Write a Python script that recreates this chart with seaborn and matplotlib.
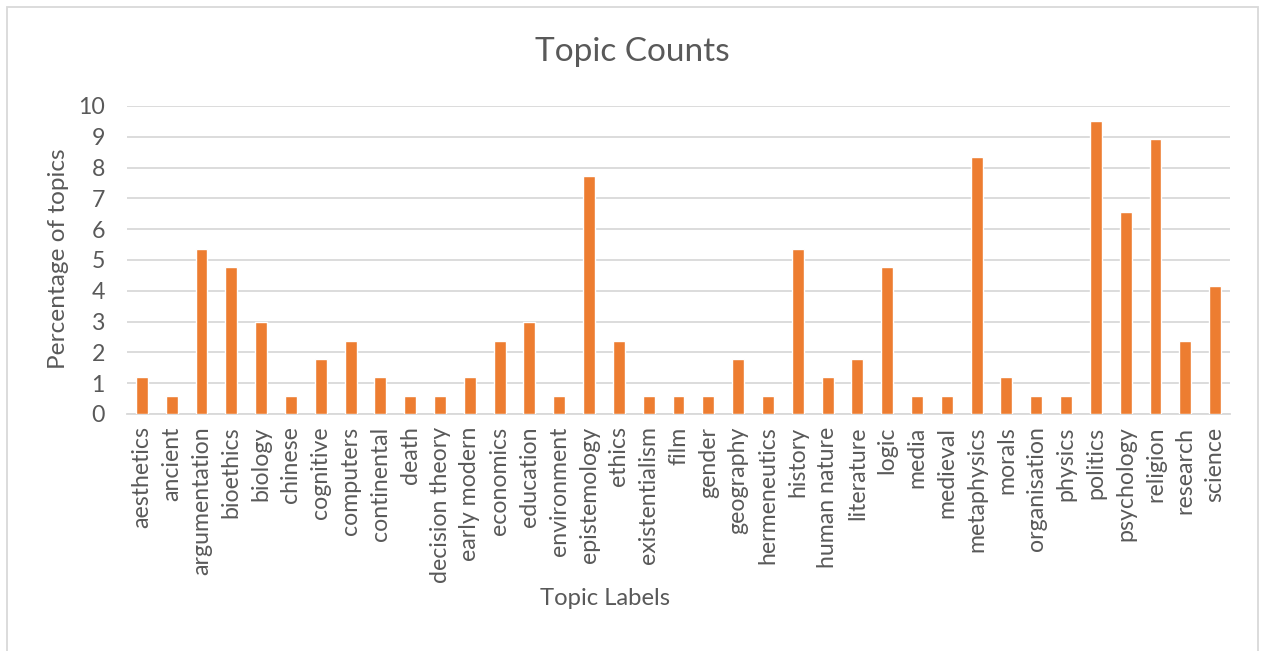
import matplotlib
matplotlib.use("Agg")
import matplotlib.pyplot as plt
import seaborn as sns
import pandas as pd
from matplotlib.patches import Rectangle

topics = [
    "aesthetics", "ancient", "argumentation", "bioethics", "biology", "chinese",
    "cognitive", "computers", "continental", "death", "decision theory",
    "early modern", "economics", "education", "environment", "epistemology",
    "ethics", "existentialism", "film", "gender", "geography", "hermeneutics",
    "history", "human nature", "literature", "logic", "media", "medieval",
    "metaphysics", "morals", "organisation", "physics", "politics",
    "psychology", "religion", "research", "science",
]
percentages = [
    1.19, 0.60, 5.36, 4.76, 2.98, 0.60,
    1.79, 2.38, 1.19, 0.60, 0.60,
    1.19, 2.38, 2.98, 0.60, 7.74,
    2.38, 0.60, 0.60, 0.60, 1.79, 0.60,
    5.36, 1.19, 1.79, 4.76, 0.60, 0.60,
    8.33, 1.19, 0.60, 0.60, 9.52,
    6.55, 8.93, 2.38, 4.17,
]
y_ticks = [0, 1, 2, 3, 4, 5, 6, 7, 8, 9, 10]

df = pd.DataFrame({"topic": topics, "pct": percentages})

sns.set_theme(style="white")
plt.rcParams["font.family"] = ["Lato", "DejaVu Sans"]

TEXT = "#595959"
GRID = "#d9d9d9"
BAR = "#ed7d31"

fig = plt.figure(figsize=(12.61, 6.51), dpi=100)
ax = fig.add_axes([127 / 1261, 1 - 414 / 651, (1230 - 127) / 1261, (414 - 106) / 651])

sns.barplot(data=df, x="topic", y="pct", color=BAR, width=0.4,
            saturation=1, ax=ax, zorder=3)

ax.set_ylim(0, 10)
ax.set_yticks(y_ticks)
ax.set_xlim(-0.5, len(topics) - 0.5)
ax.yaxis.grid(True, color=GRID, linewidth=1.3, zorder=0)
ax.set_axisbelow(True)
for side in ["top", "right", "left"]:
    ax.spines[side].set_visible(False)
ax.spines["bottom"].set_color(GRID)
ax.spines["bottom"].set_linewidth(1.3)
ax.tick_params(axis="both", length=0, colors=TEXT, labelsize=16.7)
ax.tick_params(axis="y", pad=16)
ax.tick_params(axis="x", pad=9)
plt.setp(ax.get_xticklabels(), rotation=90)

ax.set_xlabel("Topic Labels", fontsize=17.2, color=TEXT)
ax.set_ylabel("Percentage of topics", fontsize=17.6, color=TEXT)
ax.xaxis.set_label_coords((605 - 127) / 1103, -(588 - 414) / 308)
ax.yaxis.set_label_coords(-(127 - 69) / 1103, (414 - 259) / 308)

fig.text(632 / 1261, 1 - 52 / 651, "Topic Counts", ha="center", va="center",
         fontsize=24, color=TEXT)

# chart frame
fig.patches.append(Rectangle((7 / 1261, -0.01), (1258 - 7) / 1261, 1 - 7 / 651 + 0.01,
                             transform=fig.transFigure, fill=False,
                             edgecolor=GRID, linewidth=1.3))

fig.savefig("out.png", dpi=100, facecolor="white")
